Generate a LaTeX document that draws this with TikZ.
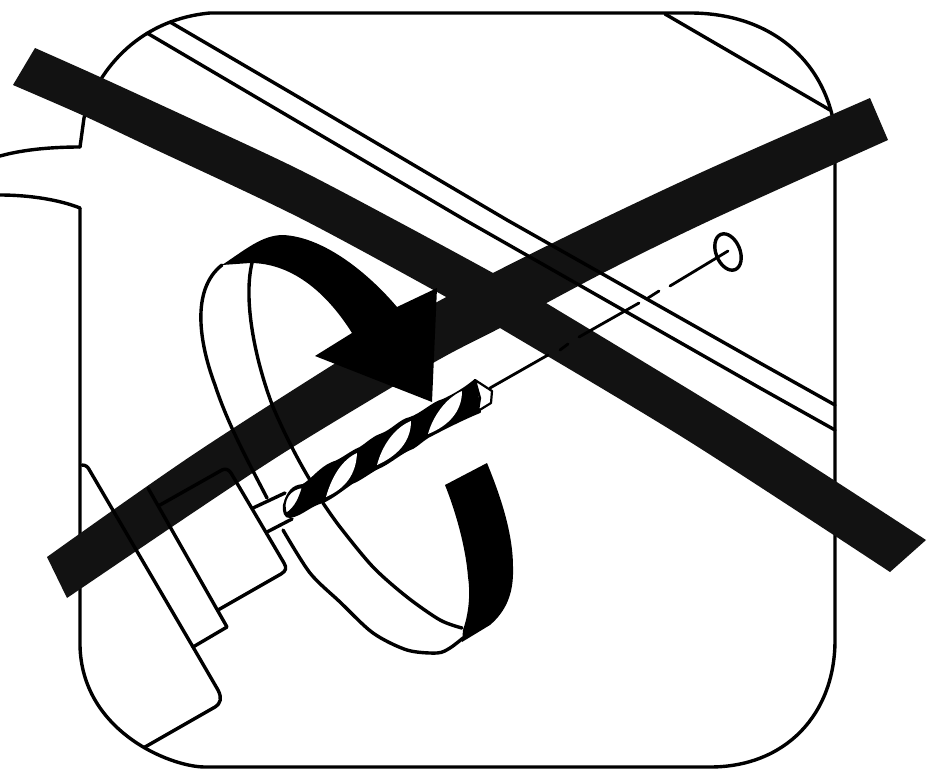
\documentclass[tikz,border=0pt]{standalone}
\tikzset{
  outline/.style={draw=black,line width=3.4pt,line join=round,line cap=round},
  thin outline/.style={draw=black,line width=2.8pt,line join=round,line cap=round},
  crossband/.style={fill=black!93},
  solid black/.style={fill=black},
  leaf/.style={fill=white}
}
\begin{document}
\begin{tikzpicture}[x=1pt,y=-1pt]
\useasboundingbox (0,0) rectangle (942,771);
\fill[white] (0,0) rectangle (942,771);
% frame
\draw[outline] (80,147) -- (84,118) .. controls (95,75) and (135,20) .. (210,13) -- (690,13)
  .. controls (770,13) and (825,60) .. (835,130) -- (835,640)
  .. controls (835,715) and (785,767) .. (710,767) -- (205,767)
  .. controls (170,767) and (78,730) .. (80,640) -- (80,208);
\draw[outline] (0,156) .. controls (25,149) and (55,147) .. (80,147);
\draw[outline] (0,195) .. controls (30,195) and (60,200) .. (80,208);
% crossing bands
\fill[crossband] plot[smooth] coordinates {(35,48) (100,77) (200,123) (300,170) (397,221) (493,273) (546,303) (760,433) (926,540)}
  -- (890,572) -- plot[smooth] coordinates {(890,572) (687,440) (500,328) (448,298) (300,218) (150,147) (82,115) (13,85)} -- cycle;
\fill[crossband] plot[smooth] coordinates {(870,98) (711,168) (600,220) (493,273) (397,325) (200,450) (47,557)}
  -- (67,598) -- plot[smooth] coordinates {(67,598) (200,508) (293,447) (433,363) (500,328) (603,273) (711,220) (888,140)} -- cycle;
% diagonal lines
\draw[outline] (170,22) -- (300,98) -- (507,220) -- (760,363) -- (835,405);
\draw[outline] (147,33) -- (300,123) -- (465,220) -- (760,388) -- (835,430);
\draw[outline] (665,14) -- (830,110);
% tool body
\draw[outline] (82,465) .. controls (86,465) and (88,467) .. (90,471) -- (193,647) -- (218,690)
  .. controls (222,698) and (221,703) .. (215,707) -- (145,747);
\draw[outline] (148,488) -- (227,627) -- (193,647);
\draw[outline] (160,505) -- (222,470) .. controls (226,468) and (229,470) .. (231,473) -- (284,563)
  .. controls (287,568) and (286,571) .. (281,574) -- (218,610);
% shaft
\draw[outline] (253,508) -- (285,493);
\draw[outline] (267,532) -- (292,519);
% ribbon loop
\draw[outline] (222,265) .. controls (190,290) and (200,345) .. (215,385)
  .. controls (228,425) and (250,465) .. (267,498);
\draw[outline] plot[smooth] coordinates {(283,530) (310,573) (340,602) (373,633) (407,650) (437,653) (450,648) (463,638)};
\draw[outline] (252,263) .. controls (243,300) and (255,360) .. (273,407)
  .. controls (285,435) and (298,460) .. (310,480);
\draw[outline] plot[smooth] coordinates {(323,503) (340,527) (373,567) (407,597) (440,620) (462,628)};
% ribbon pieces
\fill[solid black] (222,265) .. controls (245,250) and (262,235) .. (283,235)
  .. controls (325,237) and (370,275) .. (397,307)
  -- (437,288) -- (432,402) -- (315,356) -- (352,333)
  .. controls (325,290) and (290,263) .. (250,263) -- cycle;
\fill[solid black] (445,485) -- (487,463) .. controls (498,490) and (513,530) .. (513,567)
  .. controls (514,595) and (505,612) .. (490,625)
  -- (462,642) -- (463,630)
  .. controls (470,610) and (470,590) .. (468,577)
  .. controls (466,550) and (457,515) .. (445,485) -- cycle;
% drill
\fill[solid black,draw=black,line width=2pt,line join=round]
  (284,505) .. controls (288,492) and (292,486) .. (303,485)
  .. controls (312,480) and (320,468) .. (332,463)
  .. controls (342,460) and (350,452) .. (360,448)
  .. controls (368,443) and (372,438) .. (380,435)
  .. controls (392,431) and (400,420) .. (410,418)
  .. controls (422,414) and (432,403) .. (443,400)
  .. controls (452,396) and (466,388) .. (475,380)
  -- (480,412) .. controls (465,418) and (445,428) .. (428,437)
  .. controls (420,442) and (415,448) .. (408,450)
  .. controls (398,455) and (388,464) .. (378,468)
  .. controls (370,472) and (360,480) .. (352,483)
  .. controls (342,490) and (332,498) .. (323,502)
  .. controls (310,505) and (302,515) .. (290,517) .. controls (285,518) and (283,511) .. (284,505) -- cycle;
\draw[leaf,draw=black,line width=2pt] (286,514) .. controls (281,500) and (290,488) .. (303,487)
  .. controls (300,497) and (296,508) .. (286,514) -- cycle;
\fill[leaf] (326,497) .. controls (332,476) and (342,460) .. (357,453)
  .. controls (356,474) and (346,488) .. (326,497) -- cycle;
\fill[leaf] (377,465) .. controls (382,446) and (394,428) .. (411,421)
  .. controls (411,442) and (397,456) .. (377,465) -- cycle;
\fill[leaf] (428,434) .. controls (433,416) and (446,398) .. (462,391)
  .. controls (462,412) and (448,426) .. (428,434) -- cycle;
% drill tip
\draw[leaf,draw=black,line width=2.2pt,line join=round] (475,380) -- (492,391) -- (491,403) -- (478,411) -- (480,398) -- cycle;
% centre line
\draw[thin outline] (490,388) -- (548,355);
\draw[thin outline] (560,350) -- (568,344);
\draw[thin outline] (579,337) -- (639,303);
\draw[thin outline] (648,298) -- (659,291);
\draw[thin outline] (670,286) -- (728,251);
\draw[outline,rotate around={22:(728,252)}] (728,252) ellipse [x radius=12,y radius=19];
\end{tikzpicture}
\end{document}
